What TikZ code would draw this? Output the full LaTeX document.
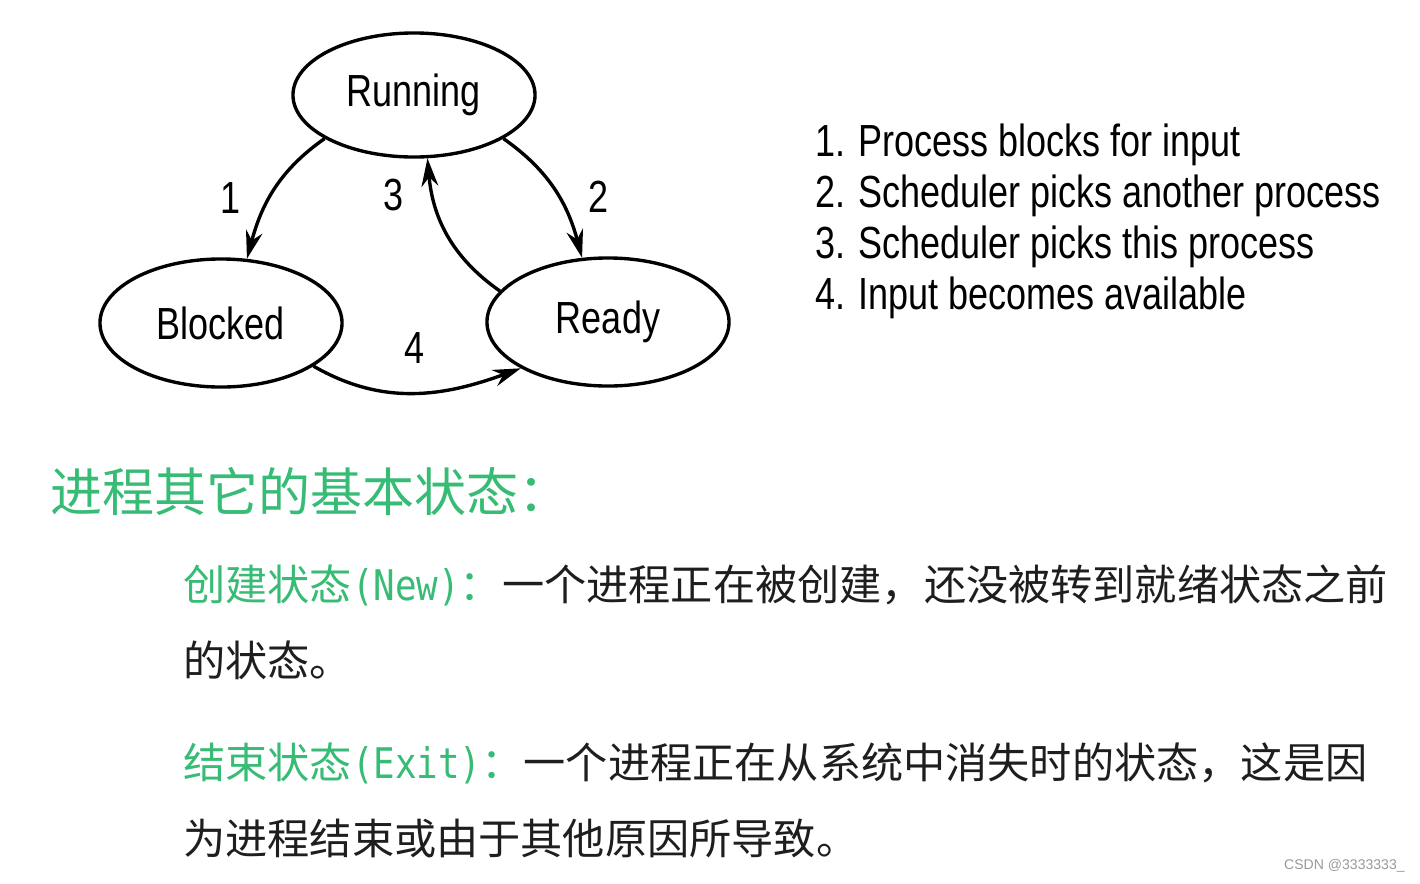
\documentclass[tikz,border=0pt]{standalone}
\usepackage{fontspec}
\setmainfont{Liberation Sans}
\newfontfamily\narrowsans[FakeStretch=0.8]{Liberation Sans}
\newfontfamily\narrowmono[FakeStretch=0.85]{DejaVu Sans Mono}
\newfontfamily\cjk{Noto Sans CJK SC}
\usepackage{tikz}
\usetikzlibrary{arrows.meta,positioning,shapes.geometric}
\definecolor{stategreen}{HTML}{36BC74}
\definecolor{textblack}{HTML}{1E1E1E}
\definecolor{markgray}{HTML}{9A9A9A}
\newcommand{\stname}[2]{\textcolor{stategreen}{#1{\narrowmono(#2)}：}}

\begin{document}
\begin{tikzpicture}[x=0.025cm,y=0.025cm,
  state/.style={ellipse,draw,line width=2.4pt,minimum width=6.05cm,minimum height=3.1cm,
    inner sep=0pt,font=\narrowsans\fontsize{32}{36}\selectfont},
  trans/.style={line width=2.4pt,-{Stealth[length=20pt,width=12pt]}},
  lbl/.style={font=\narrowsans\fontsize{32}{36}\selectfont,inner sep=0pt},
  item/.style={font=\narrowsans\fontsize{32}{36}\selectfont,anchor=base west,inner sep=0pt},
  heading/.style={font=\cjk\fontsize{37}{44}\selectfont,text=stategreen,anchor=west,inner sep=0pt},
  body/.style={font=\cjk\fontsize{30}{36}\selectfont,text=textblack,anchor=west,inner sep=0pt}
]
\useasboundingbox[fill=white] (0,0) rectangle (1420,-883);

% the three states
\node[state] (run) at (414,-95) {Running};
\node[state,minimum height=3.2cm] (blk) at (221,-323) {Blocked};
\node[state,minimum height=3.2cm] (rdy) at (608,-322) {Ready};

% transitions
\draw[trans] (run.206) to[out=215,in=75] node[lbl,pos=.56,left=20pt] (t1) {1} (blk.68);
\draw[trans] (run.334) to[out=-35,in=105] node[lbl,pos=.56,right=20pt] (t2) {2} (rdy.112);
\draw[trans] (rdy.164) to[out=145,in=275] node[lbl,pos=.78,left=20pt] (t3) {3} (run.282);
\draw[trans] (blk.-25) to[out=-30,in=200] node[lbl,pos=.5,above=20pt] (t4) {4} (rdy.208);

% legend
\node[item] (i1) at (815,-156) {1. Process blocks for input};
\node[item,below=51*0.025cm of i1.base west,anchor=base west] (i2) {2. Scheduler picks another process};
\node[item,below=51*0.025cm of i2.base west,anchor=base west] (i3) {3. Scheduler picks this process};
\node[item,below=51*0.025cm of i3.base west,anchor=base west] (i4) {4. Input becomes available};

% other basic states
\node[heading] (h) at (50,-492) {进程其它的基本状态：};
\node[body] (new1) at (183,-585) {\stname{创建状态}{New}一个进程正在被创建，还没被转到就绪状态之前};
\node[body] (new2) at (183,-660) {的状态。};
\node[body] (exit1) at (183,-763) {\stname{结束状态}{Exit}一个进程正在从系统中消失时的状态，这是因};
\node[body] (exit2) at (183,-838) {为进程结束或由于其他原因所导致。};

\node[font=\fontsize{10}{12}\selectfont,text=markgray,anchor=east,inner sep=0pt] (mark) at (1405,-866) {CSDN @3333333\_};
\end{tikzpicture}
\end{document}
